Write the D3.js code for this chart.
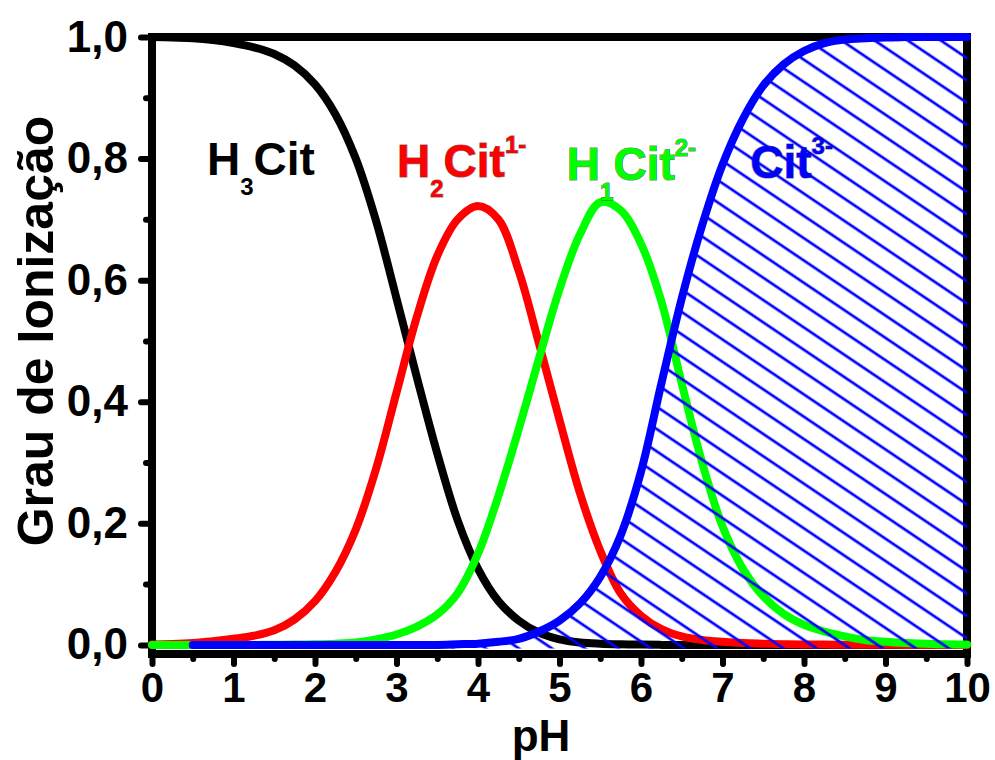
<!DOCTYPE html>
<html>
<head>
<meta charset="utf-8">
<script src="https://cdn.jsdelivr.net/npm/d3@7"></script>
<style>
  html, body { margin: 0; padding: 0; background: #fff; }
  svg { display: block; }
  text { font-family: "Liberation Sans", Arial, sans-serif; font-weight: bold; }
</style>
</head>
<body>
<svg id="chart" width="995" height="760"></svg>
<script>
// ---------------- data ----------------
const pH = [0,0.25,0.5,0.75,1,1.25,1.5,1.75,2,2.25,2.5,2.75,3,3.25,3.5,3.75,4,4.25,4.5,4.75,5,5.25,5.5,5.75,6,6.25,6.5,6.75,7,7.25,7.5,7.75,8,8.25,8.5,8.75,9,9.25,9.5,9.75,10];

const H3Cit = [1.000,0.999,0.998,0.995,0.990,0.983,0.972,0.953,0.922,0.873,0.800,0.697,0.570,0.440,0.315,0.205,0.125,0.072,0.040,0.020,0.009,0.004,0.002,0.001,0.0005,0,0,0,0,0,0,0,0,0,0,0,0,0,0,0,0];

const H2Cit = [0.0008,0.0015,0.003,0.006,0.010,0.015,0.024,0.042,0.072,0.120,0.190,0.290,0.415,0.540,0.640,0.700,0.722,0.700,0.615,0.495,0.370,0.250,0.155,0.085,0.048,0.026,0.014,0.008,0.005,0.003,0.002,0.0012,0.0008,0.0005,0.0003,0.0002,0.0001,0,0,0,0];

const HCit = [0,0,0,0,0,0,0.0002,0.0005,0.001,0.002,0.004,0.009,0.017,0.030,0.050,0.085,0.150,0.245,0.355,0.472,0.585,0.675,0.728,0.715,0.660,0.565,0.430,0.300,0.195,0.125,0.080,0.051,0.033,0.022,0.014,0.008,0.005,0.003,0.002,0.001,0.0007];

const Cit = [null,null,0,0,0,0,0,0,0,0,0,0,0,0,0,0.001,0.002,0.005,0.010,0.022,0.040,0.068,0.112,0.180,0.285,0.430,0.570,0.690,0.790,0.865,0.920,0.955,0.977,0.990,0.996,0.998,0.999,1,1,1,1];

const xTicks = [0,1,2,3,4,5,6,7,8,9,10];
const xTickLabels = ["0","1","2","3","4","5","6","7","8","9","10"];
const xMinorTicks = [0.5,1.5,2.5,3.5,4.5,5.5,6.5,7.5,8.5,9.5];
const yTicks = [0,0.2,0.4,0.6,0.8,1.0];
const yTickLabels = ["0,0","0,2","0,4","0,6","0,8","1,0"];
const yMinorTicks = [0.1,0.3,0.5,0.7,0.9];

const seriesNames = ["H3Cit","H2Cit","HCit","Cit"];
const seriesColors = ["#000000","#ff0000","#00ff00","#0000ff"];
const seriesValues = [H3Cit, H2Cit, HCit, Cit];

// species labels: [base, subscript, base, superscript]
const labelParts = [
  ["H","3","Cit",""],
  ["H","2","Cit","1-"],
  ["H","1","Cit","2-"],
  ["","","Cit","3-"]
];
const labelAnchorPH = [0.675, 3.006, 5.09, 7.34];
const labelAnchorVal = [0.773, 0.770, 0.765, 0.768];

const xTitle = "pH";
const yTitle = "Grau de Ionização";

// ---------------- drawing ----------------
const svg = d3.select("#chart");
const x = d3.scaleLinear().domain([0, 10]).range([152, 967]);
const y = d3.scaleLinear().domain([-0.015, 1]).range([654, 37]);

const defs = svg.append("defs");
const pat = defs.append("pattern")
  .attr("id", "hatch")
  .attr("patternUnits", "userSpaceOnUse")
  .attr("width", 40).attr("height", 18.5)
  .attr("patternTransform", "rotate(34)");
pat.append("line")
  .attr("x1", -2).attr("x2", 42).attr("y1", 6.9).attr("y2", 6.9)
  .attr("stroke", "#0000ff").attr("stroke-width", 2.8);

// frame
svg.append("rect")
  .attr("x", x(0)).attr("y", y(1))
  .attr("width", x(10) - x(0)).attr("height", y(-0.015) - y(1))
  .attr("fill", "none").attr("stroke", "#000").attr("stroke-width", 8);

// bottom axis (major + minor)
const gx = svg.append("g").attr("transform", `translate(0,${y(-0.015)})`)
  .call(d3.axisBottom(x).tickValues(xTicks).tickSize(10).tickPadding(8)
        .tickFormat((d, i) => xTickLabels[i]));
const gxm = svg.append("g").attr("transform", `translate(0,${y(-0.015)})`)
  .call(d3.axisBottom(x).tickValues(xMinorTicks).tickSize(5).tickFormat(""));

// left axis (major + minor)
const gy = svg.append("g").attr("transform", `translate(${x(0)},0)`)
  .call(d3.axisLeft(y).tickValues(yTicks).tickSize(11).tickPadding(13)
        .tickFormat((d, i) => yTickLabels[i]));
const gym = svg.append("g").attr("transform", `translate(${x(0)},0)`)
  .call(d3.axisLeft(y).tickValues(yMinorTicks).tickSize(6).tickFormat(""));

[gx, gxm, gy, gym].forEach(g => {
  g.select(".domain").remove();
  g.selectAll(".tick line").attr("stroke", "#000").attr("stroke-width", 6).attr("stroke-linecap", "round");
  g.selectAll(".tick text").attr("fill", "#000")
    .style("font-family", '"Liberation Sans", Arial, sans-serif').style("font-weight", "bold");
});
gx.selectAll(".tick text").style("font-size", "42px");
gy.selectAll(".tick text").style("font-size", "44px");

// lines
const line = d3.line()
  .defined(d => d[1] !== null)
  .x(d => x(d[0])).y(d => y(d[1]))
  .curve(d3.curveCatmullRom.alpha(0.5));

const area = d3.area()
  .defined(d => d[1] !== null)
  .x(d => x(d[0])).y0(y(-0.006)).y1(d => y(d[1]))
  .curve(d3.curveCatmullRom.alpha(0.5));

function pts(vals) { return pH.map((p, i) => [p, vals[i]]); }

// black, red, green lines
[0, 1, 2].forEach(k => {
  svg.append("path")
    .attr("d", line(pts(seriesValues[k])))
    .attr("fill", "none").attr("stroke", seriesColors[k])
    .attr("stroke-width", 8).attr("stroke-linecap", "round").attr("stroke-linejoin", "round");
});
// hatched area under Cit3-
svg.append("path").attr("d", area(pts(Cit))).attr("fill", "url(#hatch)");
// blue line
svg.append("path")
  .attr("d", line(pts(Cit)))
  .attr("fill", "none").attr("stroke", seriesColors[3])
  .attr("stroke-width", 8).attr("stroke-linecap", "round").attr("stroke-linejoin", "round");

// species labels
labelParts.forEach((parts, i) => {
  const t = svg.append("text")
    .attr("x", x(labelAnchorPH[i])).attr("y", y(labelAnchorVal[i]))
    .attr("fill", seriesColors[i])
    .style("font-size", "46px")
    .attr("stroke", i === 0 ? "none" : "rgba(0,0,0,0.55)")
    .attr("stroke-width", 1.2).attr("paint-order", "stroke");
  if (parts[0]) t.append("tspan").text(parts[0]);
  if (parts[1]) t.append("tspan").text(parts[1]).style("font-size", "24px").attr("dy", 20);
  t.append("tspan").text(parts[2]).attr("dy", parts[1] ? -20 : 0);
  if (parts[3]) t.append("tspan").text(parts[3]).style("font-size", "24px").attr("dy", -24);
});

// axis titles
svg.append("text")
  .attr("x", 541).attr("y", 751)
  .attr("text-anchor", "middle")
  .style("font-size", "44px")
  .text(xTitle);

svg.append("text")
  .attr("transform", "translate(53,331) rotate(-90)")
  .attr("text-anchor", "middle")
  .style("font-size", "50px")
  .text(yTitle);
</script>
</body>
</html>
